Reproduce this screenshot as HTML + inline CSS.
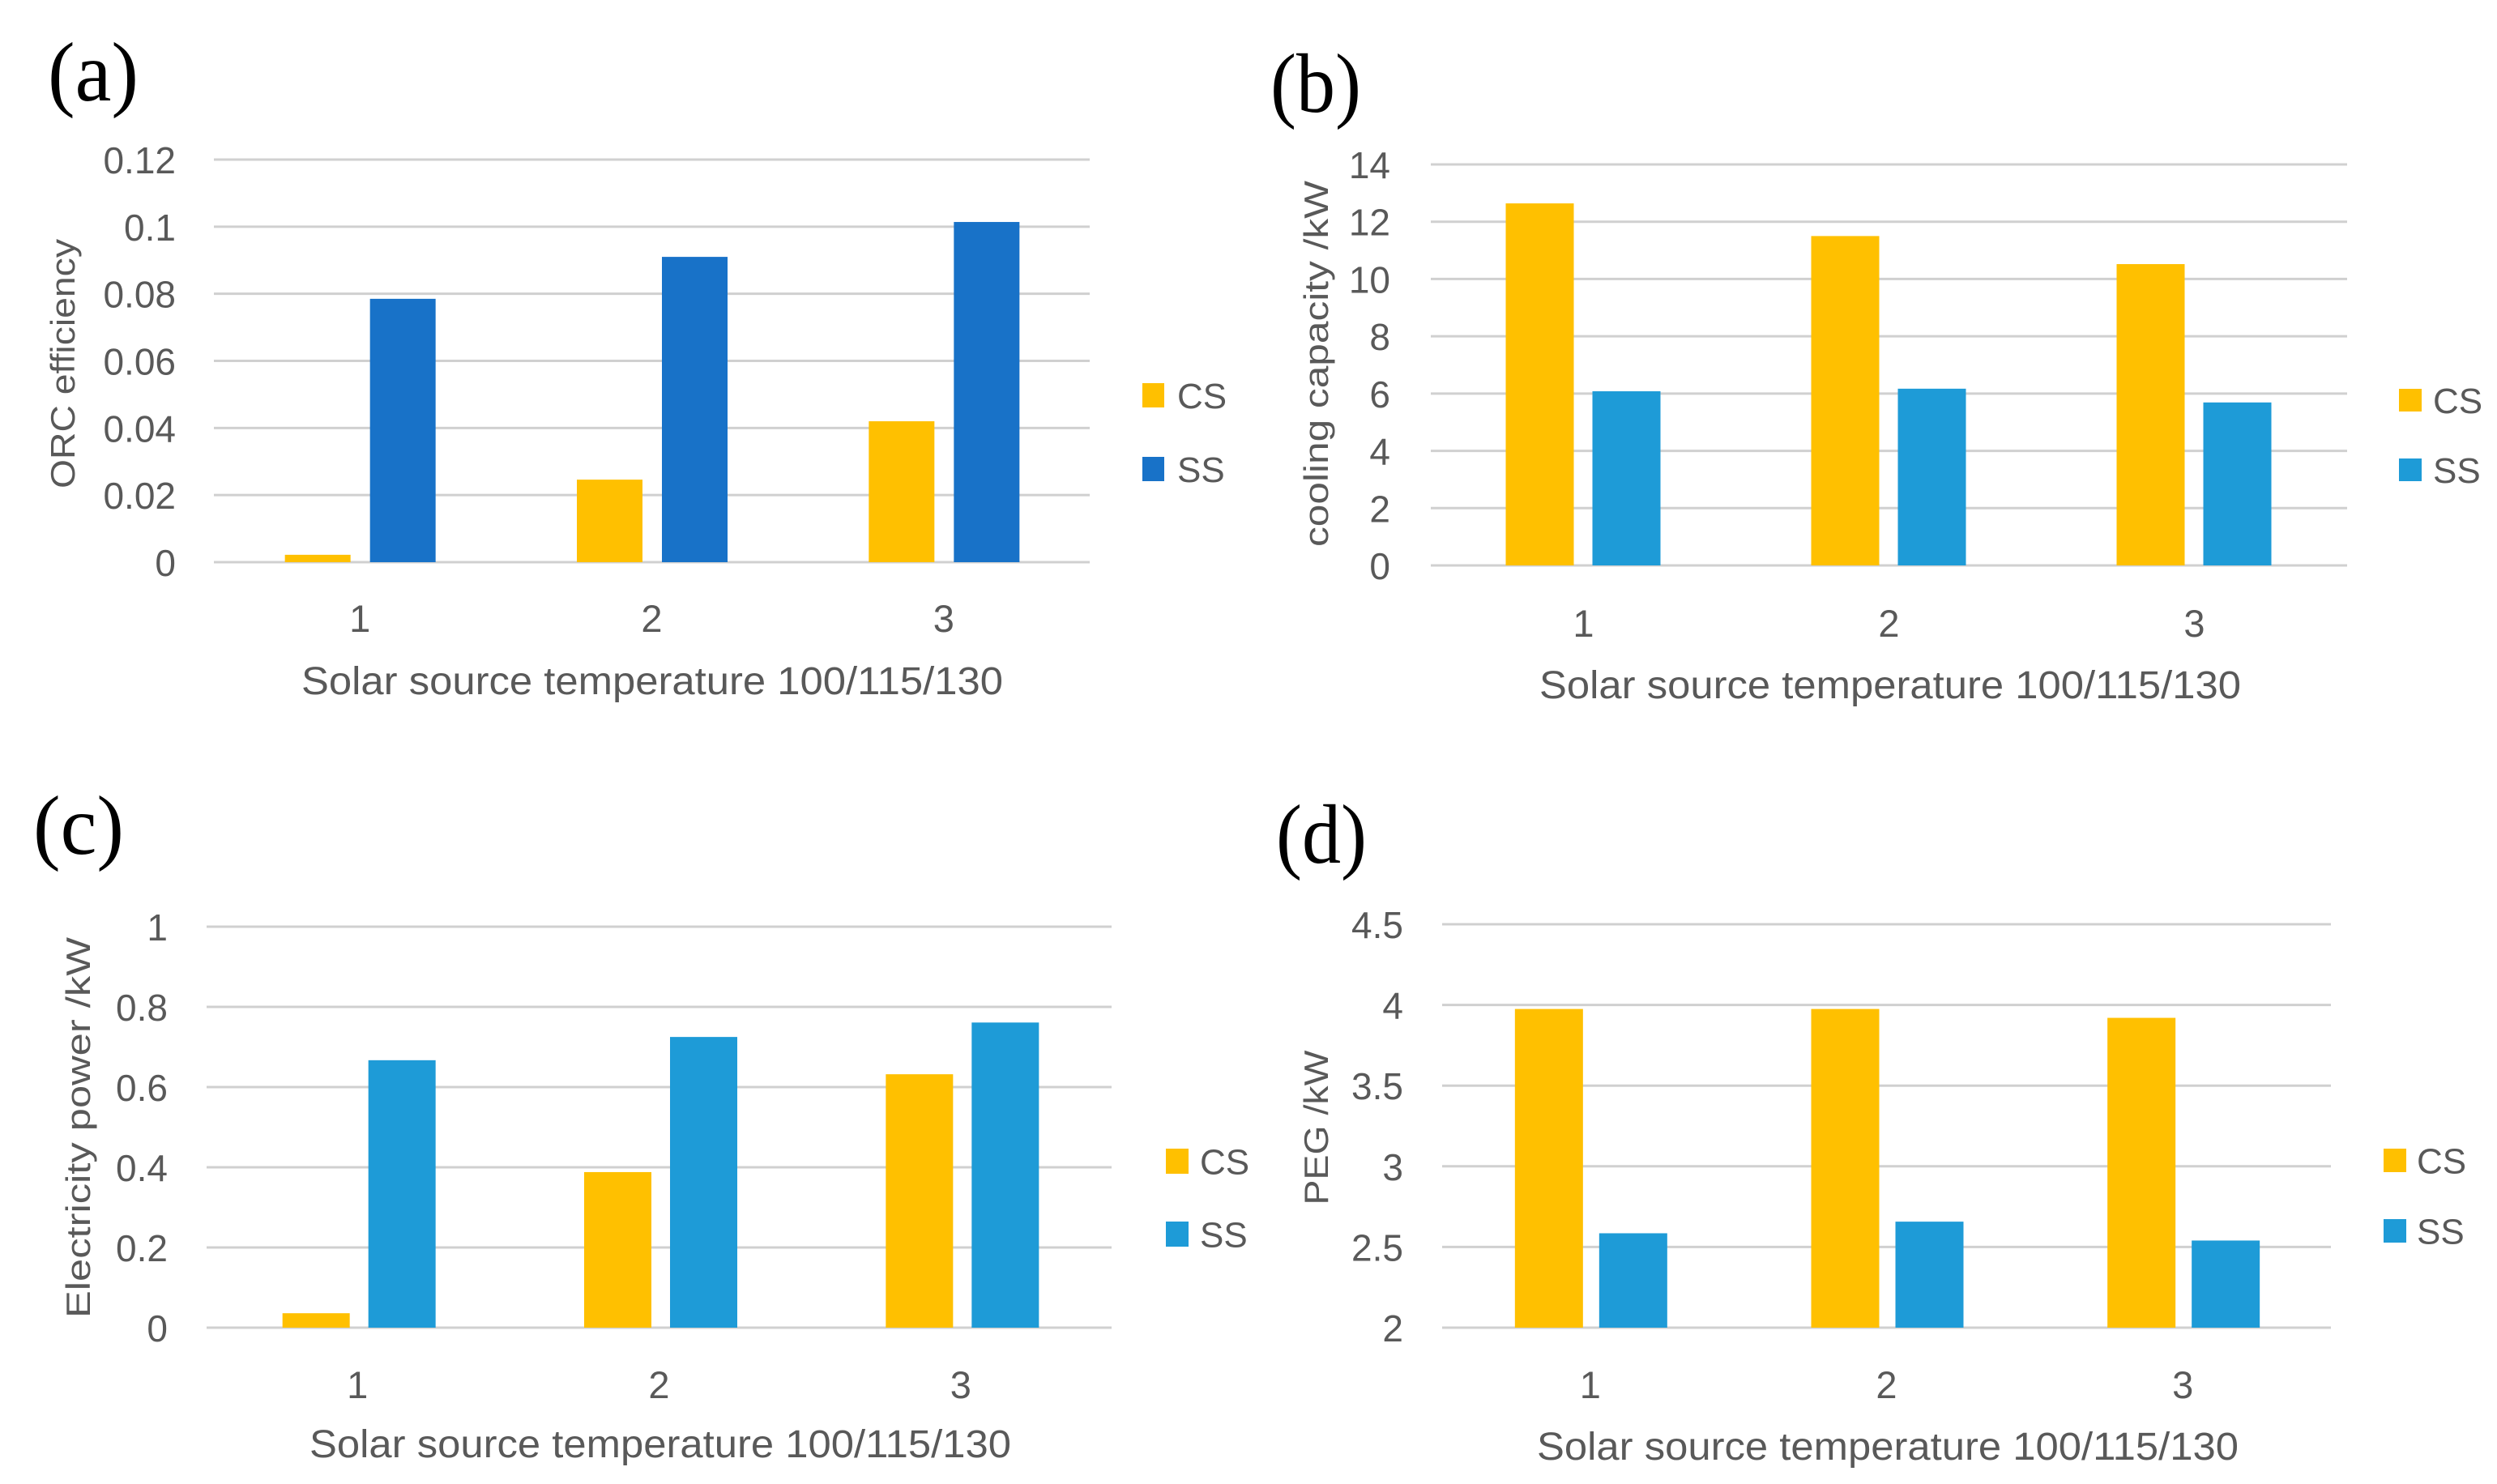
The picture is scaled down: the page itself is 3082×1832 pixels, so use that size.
<!DOCTYPE html>
<html><head><meta charset="utf-8"><style>
html,body{margin:0;padding:0;background:#fff;}
svg{display:block;}
text{font-family:"Liberation Sans",sans-serif;fill:#595959;}
.lbl{font-family:"Liberation Serif",serif;fill:#000;font-size:104px;}
</style></head><body>
<svg id="fig" width="3082" height="1832" viewBox="0 0 3082 1832" xmlns="http://www.w3.org/2000/svg"></svg>
<script>
const categories = ["1","2","3"];
const seriesNames = ["CS","SS"];
const aCS = [0.0022, 0.0246, 0.042];
const aSS = [0.0785, 0.091, 0.1014];
const aTicks = ["0","0.02","0.04","0.06","0.08","0.1","0.12"];
const bCS = [12.64, 11.5, 10.52];
const bSS = [6.08, 6.17, 5.69];
const bTicks = ["0","2","4","6","8","10","12","14"];
const cCS = [0.036, 0.388, 0.632];
const cSS = [0.667, 0.725, 0.761];
const cTicks = ["0","0.2","0.4","0.6","0.8","1"];
const dCS = [3.975, 3.975, 3.92];
const dSS = [2.585, 2.657, 2.54];
const dTicks = ["2","2.5","3","3.5","4","4.5"];

const NS = "http://www.w3.org/2000/svg";
const svg = document.getElementById('fig');
function mk(tag, attrs, parent){
  const e = document.createElementNS(NS, tag);
  for (const k in attrs) e.setAttribute(k, attrs[k]);
  (parent||svg).appendChild(e);
  return e;
}
const panels = [
  {id:'a', label:'(a)', lx:59, ly:124, cs:aCS, ss:aSS, ticks:aTicks, min:0, max:0.12,
   x0:264, x1:1345, yTop:197, yBot:694, tickR:217, ytitle:'ORC efficiency', ytx:77, yty:449, ytl:308,
   xty:763, xtitY:857, xtitX:805, legX:1410, legCSy:473, legSSy:564, legTx:1453, sw:27, sh:30,
   ssColor:'#1872C8', csOff:-52, ssOff:53, bw:81},
  {id:'b', label:'(b)', lx:1568, ly:138, cs:bCS, ss:bSS, ticks:bTicks, min:0, max:14,
   x0:1766, x1:2897, yTop:203, yBot:698, tickR:1716, ytitle:'cooling capacity /kW', ytx:1624, yty:449, ytl:452,
   xty:769, xtitY:862, xtitX:2333, legX:2961, legCSy:480, legSSy:566, legTx:3003, sw:28, sh:28,
   ssColor:'#1E9BD7', csOff:-54, ssOff:53, bw:84},
  {id:'c', label:'(c)', lx:41, ly:1054, cs:cCS, ss:cSS, ticks:cTicks, min:0, max:1,
   x0:255, x1:1372, yTop:1144, yBot:1639, tickR:207, ytitle:'Electricity power /kW', ytx:96, yty:1392, ytl:470,
   xty:1709, xtitY:1799, xtitX:815, legX:1439, legCSy:1418, legSSy:1508, legTx:1481, sw:28, sh:31,
   ssColor:'#1E9BD7', csOff:-51, ssOff:55, bw:83},
  {id:'d', label:'(d)', lx:1575, ly:1065, cs:dCS, ss:dSS, ticks:dTicks, min:2, max:4.5,
   x0:1780, x1:2877, yTop:1141, yBot:1639, tickR:1732, ytitle:'PEG /kW', ytx:1624, yty:1392, ytl:191,
   xty:1709, xtitY:1802, xtitX:2330, legX:2942, legCSy:1418, legSSy:1505, legTx:2983, sw:28, sh:29,
   ssColor:'#1E9BD7', csOff:-51, ssOff:53, bw:84}
];
panels.forEach(p => {
  const g = mk('g', {});
  
  
  const yScale = v => p.yBot - (v - p.min) / (p.max - p.min) * (p.yBot - p.yTop);
  const cw = (p.x1 - p.x0) / categories.length;
  const xCenter = i => p.x0 + cw * (i + 0.5);
  const lab = mk('text', {x:p.lx, y:p.ly, class:'lbl', textLength:112, lengthAdjust:'spacingAndGlyphs'}, g);
  lab.textContent = p.label;
  
  
  p.ticks.forEach(t => {
    const y = yScale(parseFloat(t));
    const gl = mk('line', {x1:p.x0, x2:p.x1, y1:y, y2:y, stroke:'#d0d0d0', 'stroke-width':3}, g);
    
    
    const tl = mk('text', {x:p.tickR, y:y+17, 'text-anchor':'end', 'font-size':46}, g);
    tl.textContent = t;
    
    
  });
  categories.forEach((c, i) => {
    const cx = xCenter(i);
    const yb = yScale(p.min);
    const y1 = yScale(p.cs[i]);
    const r1 = mk('rect', {x:cx + p.csOff - p.bw/2, y:y1, width:p.bw, height:yb - y1, fill:'#FFC000'}, g);
    
    
    const y2 = yScale(p.ss[i]);
    const r2 = mk('rect', {x:cx + p.ssOff - p.bw/2, y:y2, width:p.bw, height:yb - y2, fill:p.ssColor}, g);
    
    
    const xl = mk('text', {x:cx, y:p.xty + 17, 'text-anchor':'middle', 'font-size':47}, g);
    xl.textContent = c;
    
    
  });
  const xt = mk('text', {x:p.xtitX, y:p.xtitY, 'text-anchor':'middle', 'font-size':48, textLength:866, lengthAdjust:'spacingAndGlyphs'}, g);
  xt.textContent = 'Solar source temperature 100/115/130';
  
  
  const yt = mk('text', {x:0, y:0, 'text-anchor':'middle', 'font-size':42, textLength:p.ytl, lengthAdjust:'spacingAndGlyphs',
    transform:'translate(' + (p.ytx + 15) + ',' + p.yty + ') rotate(-90)'}, g);
  yt.textContent = p.ytitle;
  
  
  [[seriesNames[0], '#FFC000', p.legCSy], [seriesNames[1], p.ssColor, p.legSSy]].forEach(([n, col, ly]) => {
    const sq = mk('rect', {x:p.legX, y:ly, width:p.sw, height:p.sh, fill:col}, g);
    
    
    const lt = mk('text', {x:p.legTx, y:ly + p.sh/2 + 16, 'font-size':44}, g);
    lt.textContent = n;
    
    
  });
});
</script>
</body></html>
